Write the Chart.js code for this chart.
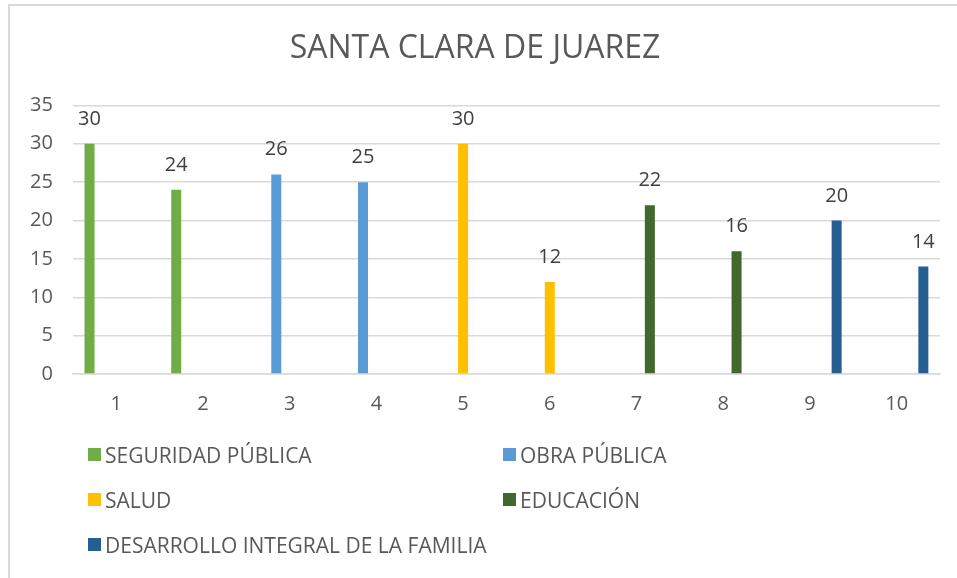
<!DOCTYPE html>
<html>
<head>
<meta charset="utf-8">
<script src="https://cdn.jsdelivr.net/npm/chart.js@4.4.1/dist/chart.umd.min.js"></script>
<style>
    body { margin: 0; background: #fff; }
    #frame {
        position: absolute; left: 8px; top: 4px; width: 949px; height: 574px;
        border-left: 2px solid #d9d9d9; border-top: 2px solid #d9d9d9;
        box-sizing: border-box;
    }
    #wrap { position: absolute; left: 0; top: 0; width: 957px; height: 440px; }
    #legend {
        position: absolute; left: 88px; top: 432px;
        display: grid; grid-template-columns: 415px auto; grid-auto-rows: 45px;
        font-family: "Open Sans", sans-serif; font-size: 21px; color: #595959;
    }
    .item { display: flex; align-items: center; }
    .box { width: 13px; height: 13px; margin-right: 4px; }
</style>
</head>
<body>
<div id="frame"></div>
<div id="wrap"><canvas id="barChart"></canvas></div>
<div id="legend"></div>
<script>
// categories 1..10, each area only has values in its own two columns
const categories = ['1', '2', '3', '4', '5', '6', '7', '8', '9', '10'];
const seriesNames = ['SEGURIDAD PÚBLICA', 'OBRA PÚBLICA', 'SALUD', 'EDUCACIÓN', 'DESARROLLO INTEGRAL DE LA FAMILIA'];
const seguridad  = [30, 24, null, null, null, null, null, null, null, null];
const obra       = [null, null, 26, 25, null, null, null, null, null, null];
const salud      = [null, null, null, null, 30, 12, null, null, null, null];
const educacion  = [null, null, null, null, null, null, 22, 16, null, null];
const desarrollo = [null, null, null, null, null, null, null, null, 20, 14];
const seriesColors = ['#70ad47', '#5b9bd5', '#ffc000', '#43682b', '#255e91'];

const seriesValues = [seguridad, obra, salud, educacion, desarrollo];

// value labels above each bar
const valueLabels = {
    id: 'valueLabels',
    afterDatasetsDraw(chart) {
        const ctx = chart.ctx;
        ctx.save();
        ctx.font = '20px "Open Sans"';
        ctx.fillStyle = '#404040';
        ctx.textAlign = 'center';
        ctx.textBaseline = 'alphabetic';
        chart.data.datasets.forEach((ds, i) => {
            chart.getDatasetMeta(i).data.forEach((bar, j) => {
                if (ds.data[j] == null) return;
                ctx.fillText(ds.data[j], bar.x, bar.y - 19);
            });
        });
        ctx.restore();
    }
};

const ctx = document.getElementById('barChart').getContext('2d');
const chart = new Chart(ctx, {
    type: 'bar',
    data: {
        labels: categories,
        datasets: seriesNames.map((name, i) => ({
            label: name,
            data: seriesValues[i],
            backgroundColor: seriesColors[i],
            categoryPercentage: 0.77,
            barPercentage: 0.75
        }))
    },
    options: {
        responsive: true,
        maintainAspectRatio: false,
        animation: false,
        layout: { padding: { top: 0, left: 10, right: 17, bottom: 6 } },
        plugins: {
            legend: { display: false },
            tooltip: { enabled: false },
            title: {
                display: true,
                text: 'SANTA CLARA DE JUAREZ',
                color: '#595959',
                font: { family: 'Open Sans', size: 32, weight: 'normal' },
                padding: { top: 30, bottom: 37 }
            }
        },
        scales: {
            x: {
                grid: { display: false, drawTicks: false },
                border: { color: '#d9d9d9', width: 1.5 },
                ticks: { color: '#595959', font: { family: 'Open Sans', size: 20 }, padding: 18 }
            },
            y: {
                min: 0,
                max: 35,
                ticks: { stepSize: 5, color: '#595959', font: { family: 'Open Sans', size: 20 }, padding: 20 },
                grid: { color: '#d9d9d9', lineWidth: 1.5, drawTicks: false },
                border: { display: false }
            }
        }
    },
    plugins: [valueLabels]
});

// two-column legend like the original
const legendBox = document.getElementById('legend');
chart.data.datasets.forEach(ds => {
    const item = document.createElement('div');
    item.className = 'item';
    const box = document.createElement('span');
    box.className = 'box';
    box.style.background = ds.backgroundColor;
    const text = document.createElement('span');
    text.textContent = ds.label;
    item.appendChild(box);
    item.appendChild(text);
    legendBox.appendChild(item);
});
</script>
</body>
</html>
